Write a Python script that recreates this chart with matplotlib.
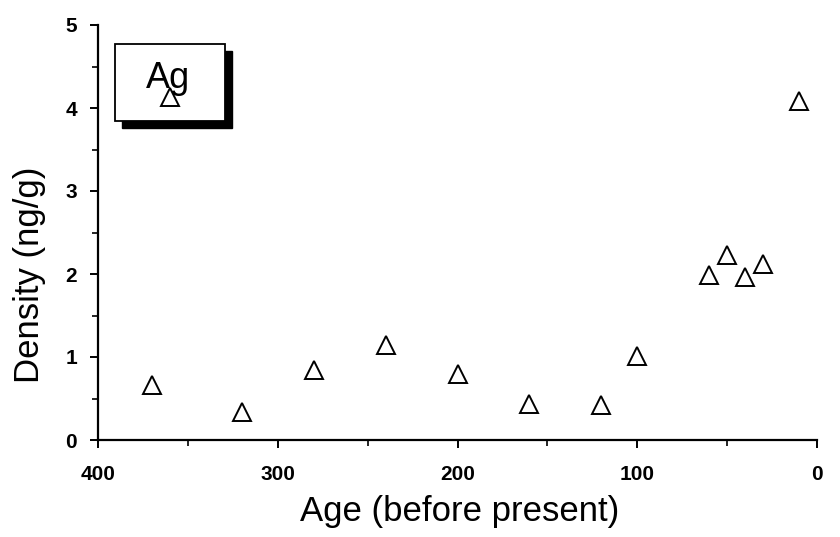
import matplotlib
matplotlib.use("Agg")
import matplotlib.pyplot as plt
from matplotlib.patches import Rectangle
from matplotlib.ticker import MultipleLocator

plt.rcParams['font.family'] = ['Liberation Sans', 'DejaVu Sans']

age = [370, 320, 280, 240, 200, 160, 120, 100, 60, 50, 40, 30, 10, 360]
density = [0.66, 0.34, 0.84, 1.14, 0.80, 0.43, 0.42, 1.01, 1.99, 2.23, 1.96, 2.12, 4.08, 4.13]
x_ticks = [400, 300, 200, 100, 0]
y_ticks = [0, 1, 2, 3, 4, 5]

fig = plt.figure(figsize=(8.4, 5.37), dpi=100)
W, H = 840, 537
x0, x1, y0, y1 = 98, 817, 440, 25
ax = fig.add_axes([x0 / W, 1 - y0 / H, (x1 - x0) / W, (y0 - y1) / H])

ax.set_xlim(400, 0)
ax.set_ylim(0, 5)
for s in ['top', 'right']:
    ax.spines[s].set_visible(False)
for s in ['left', 'bottom']:
    ax.spines[s].set_linewidth(1.6)

ax.set_xticks(x_ticks)
ax.set_yticks(y_ticks)
ax.xaxis.set_minor_locator(MultipleLocator(50))
ax.yaxis.set_minor_locator(MultipleLocator(0.5))
ax.tick_params(axis='both', which='major', direction='out', length=6, width=1.4,
               labelsize=15, pad=9)
ax.tick_params(axis='x', which='major', pad=12)
ax.tick_params(axis='both', which='minor', direction='out', length=4, width=1.2)
for lab in ax.get_xticklabels() + ax.get_yticklabels():
    lab.set_fontweight('bold')

ax.plot(age, density, linestyle='none', marker='^', markersize=13,
        markerfacecolor='white', markeredgecolor='black', markeredgewidth=1.4,
        clip_on=False, zorder=5)

ax.set_xlabel('Age (before present)', fontsize=25)
ax.set_ylabel('Density (ng/g)', fontsize=25)
ax.xaxis.set_label_coords((460 - x0) / (x1 - x0), -(512 - y0) / (y0 - y1))
ax.yaxis.set_label_coords(-(x0 - 30) / (x1 - x0), (y0 - 275) / (y0 - y1))
ax.xaxis.label.set_va('center')
ax.yaxis.label.set_va('center')

# legend-like box with shadow
bx0, bx1, by0, by1 = 115, 225, 44, 121
def fr(px, py):
    return px / W, 1 - py / H
sx, sy = fr(bx0 + 7, by1 + 7)
ax.add_patch(Rectangle((sx, sy), (bx1 - bx0) / W, (by1 - by0) / H,
                       transform=fig.transFigure, facecolor='black',
                       edgecolor='black', zorder=1, clip_on=False))
px, py = fr(bx0, by1)
ax.add_patch(Rectangle((px, py), (bx1 - bx0) / W, (by1 - by0) / H,
                       transform=fig.transFigure, facecolor='white',
                       edgecolor='black', linewidth=1.3, zorder=2, clip_on=False))
ax.text((bx0 + bx1) / 2 / W - 0.002, 1 - 78 / H, 'Ag', fontsize=26, ha='center',
        va='center', zorder=3, transform=fig.transFigure)

fig.savefig('out.png', dpi=100)
